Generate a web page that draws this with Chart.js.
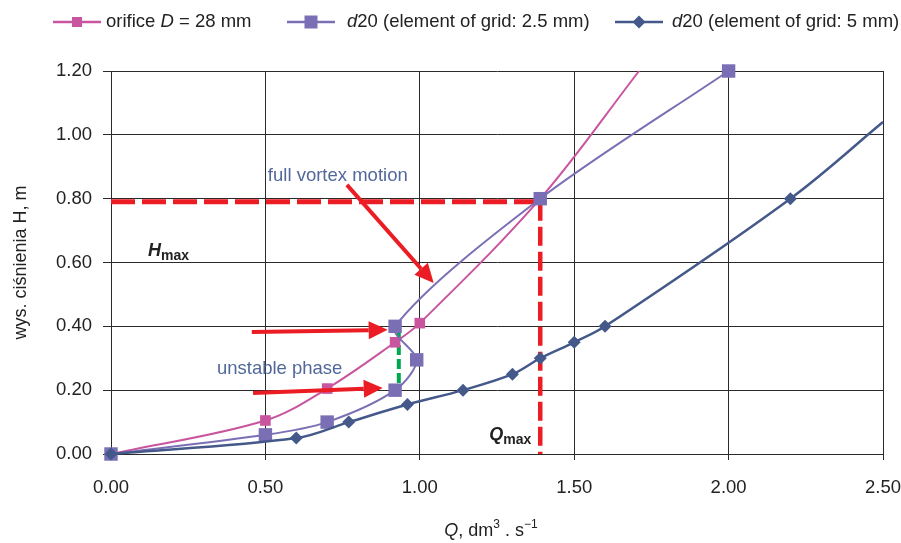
<!DOCTYPE html>
<html>
<head>
<meta charset="utf-8">
<script src="https://cdn.jsdelivr.net/npm/chart.js@4/dist/chart.umd.min.js"></script>
<style>
  html, body { margin: 0; padding: 0; background: #fff; }
  #wrap { width: 901px; height: 543px; }
</style>
</head>
<body>
<div id="wrap"><canvas id="chart" width="901" height="543"></canvas></div>
<script>
// orifice D = 28 mm
const qOrifice = [0, 0.50, 0.70, 0.92, 1.00, 1.39, 1.71];
const hOrifice = [0, 0.105, 0.205, 0.35, 0.41, 0.80, 1.20];
const markOrifice = [1, 1, 1, 1, 1, 0, 0];

// d20, grid element 2.5 mm
const qGrid25 = [0, 0.50, 0.70, 0.92, 0.99, 0.92, 1.39, 2.00];
const hGrid25 = [0, 0.06, 0.10, 0.20, 0.295, 0.40, 0.80, 1.20];

// d20, grid element 5 mm
const qGrid5 = [0, 0.60, 0.77, 0.96, 1.14, 1.30, 1.39, 1.50, 1.60, 2.20, 2.50];
const hGrid5 = [0, 0.05, 0.10, 0.155, 0.20, 0.25, 0.30, 0.35, 0.40, 0.80, 1.04];
const markGrid5 = [1, 1, 1, 1, 1, 1, 1, 1, 1, 1, 0];

const xTicks = [0, 0.5, 1.0, 1.5, 2.0, 2.5];
const yTicks = [0, 0.2, 0.4, 0.6, 0.8, 1.0, 1.2];

// annotation positions (data units)
const hMax = 0.79;
const qMax = 1.39;
const unstableQ = 0.932;
const unstableH = [0.215, 0.385];
const arrows = [
  { from: [0.456, 0.382], to: [0.896, 0.389] },
  { from: [0.460, 0.191], to: [0.880, 0.207] },
  { from: [0.764, 0.843], to: [1.045, 0.536] },
];

const pink = '#c8559e';
const purple = '#7a6fb5';
const navy = '#44598a';
const red = '#ec1c24';
const green = '#00a651';
const noteColor = '#52689a';
const font = '"Liberation Sans", Arial, sans-serif';

function toPoints(xs, ys) {
  return xs.map((x, i) => ({ x, y: ys[i] }));
}

function arrow(ctx, x1, y1, x2, y2) {
  const ang = Math.atan2(y2 - y1, x2 - x1);
  const headLen = 19;
  const headW = 9;
  const bx = x2 - headLen * Math.cos(ang);
  const by = y2 - headLen * Math.sin(ang);
  ctx.beginPath();
  ctx.moveTo(x1, y1);
  ctx.lineTo(bx, by);
  ctx.stroke();
  ctx.beginPath();
  ctx.moveTo(x2, y2);
  ctx.lineTo(bx + headW * Math.sin(ang), by - headW * Math.cos(ang));
  ctx.lineTo(bx - headW * Math.sin(ang), by + headW * Math.cos(ang));
  ctx.closePath();
  ctx.fill();
}

// draws runs of [text, font, dy] left to right
function drawRuns(ctx, x, y, runs) {
  runs.forEach(([text, f, dy]) => {
    ctx.font = f;
    ctx.fillText(text, x, y + (dy || 0));
    x += ctx.measureText(text).width;
  });
  return x;
}

const guides = {
  id: 'guides',
  beforeDatasetsDraw(chart) {
    const { ctx, scales: { x, y } } = chart;
    ctx.save();
    ctx.strokeStyle = red;
    ctx.lineWidth = 5;
    ctx.setLineDash([24, 7]);
    ctx.beginPath();
    ctx.moveTo(x.getPixelForValue(0), y.getPixelForValue(hMax));
    ctx.lineTo(x.getPixelForValue(qMax), y.getPixelForValue(hMax));
    ctx.stroke();
    ctx.lineWidth = 4.5;
    ctx.setLineDash([19, 6]);
    ctx.beginPath();
    ctx.moveTo(x.getPixelForValue(qMax), y.getPixelForValue(hMax));
    ctx.lineTo(x.getPixelForValue(qMax), y.getPixelForValue(0));
    ctx.stroke();
    ctx.strokeStyle = green;
    ctx.lineWidth = 4;
    ctx.setLineDash([10, 4]);
    ctx.beginPath();
    ctx.moveTo(x.getPixelForValue(unstableQ), y.getPixelForValue(unstableH[1]));
    ctx.lineTo(x.getPixelForValue(unstableQ), y.getPixelForValue(unstableH[0]));
    ctx.stroke();
    ctx.restore();
  },
  afterDatasetsDraw(chart) {
    const { ctx, scales: { x, y } } = chart;
    ctx.save();
    ctx.strokeStyle = red;
    ctx.fillStyle = red;
    ctx.lineWidth = 4;
    arrows.forEach((a) => {
      arrow(ctx,
        x.getPixelForValue(a.from[0]), y.getPixelForValue(a.from[1]),
        x.getPixelForValue(a.to[0]), y.getPixelForValue(a.to[1]));
    });

    ctx.fillStyle = noteColor;
    ctx.textBaseline = 'middle';
    ctx.font = '18.5px ' + font;
    ctx.fillText('full vortex motion', x.getPixelForValue(0.508), y.getPixelForValue(0.871));
    ctx.fillText('unstable phase', x.getPixelForValue(0.343), y.getPixelForValue(0.266));

    ctx.fillStyle = '#222';
    ctx.textBaseline = 'alphabetic';
    drawRuns(ctx, x.getPixelForValue(0.12), y.getPixelForValue(0.62), [
      ['H', 'italic bold 18px ' + font],
      ['max', 'bold 14px ' + font, 4],
    ]);
    drawRuns(ctx, x.getPixelForValue(1.225), y.getPixelForValue(0.045), [
      ['Q', 'italic bold 18px ' + font],
      ['max', 'bold 14px ' + font, 4],
    ]);
    ctx.restore();
  },
  afterDraw(chart) {
    const { ctx } = chart;
    ctx.save();
    // legend
    const items = [
      { color: pink, style: 'rect', size: 5, lx: 53, tx: 106,
        runs: [['orifice ', 'n'], ['D', 'i'], [' = 28 mm', 'n']] },
      { color: purple, style: 'rect', size: 6.5, lx: 287, tx: 347,
        runs: [['d', 'i'], ['20 (element of grid: 2.5 mm)', 'n']] },
      { color: navy, style: 'diamond', size: 6.5, lx: 615, tx: 672,
        runs: [['d', 'i'], ['20 (element of grid: 5 mm)', 'n']] },
    ];
    const ly = 22;
    items.forEach((it) => {
      ctx.strokeStyle = it.color;
      ctx.fillStyle = it.color;
      ctx.lineWidth = 2.5;
      ctx.beginPath();
      ctx.moveTo(it.lx, ly);
      ctx.lineTo(it.lx + 48, ly);
      ctx.stroke();
      const cx = it.lx + 24;
      ctx.beginPath();
      if (it.style === 'rect') {
        ctx.rect(cx - it.size, ly - it.size, it.size * 2, it.size * 2);
      } else {
        ctx.moveTo(cx, ly - it.size);
        ctx.lineTo(cx + it.size, ly);
        ctx.lineTo(cx, ly + it.size);
        ctx.lineTo(cx - it.size, ly);
        ctx.closePath();
      }
      ctx.fill();
      ctx.fillStyle = '#222';
      ctx.textBaseline = 'middle';
      drawRuns(ctx, it.tx, ly, it.runs.map(([t, s]) =>
        [t, (s === 'i' ? 'italic ' : '') + '18.5px ' + font]));
    });

    // x axis title
    ctx.fillStyle = '#222';
    ctx.textBaseline = 'alphabetic';
    const runs = [
      ['Q', 'italic 18px ' + font],
      [', dm', '18px ' + font],
      ['3', '12px ' + font, -8],
      [' . s', '18px ' + font],
      ['\u22121', '12px ' + font, -8],
    ];
    let w = 0;
    runs.forEach(([t, f]) => { ctx.font = f; w += ctx.measureText(t).width; });
    drawRuns(ctx, 491 - w / 2, 536, runs);
    ctx.restore();
  },
};

const ctx = document.getElementById('chart').getContext('2d');
new Chart(ctx, {
  type: 'scatter',
  data: {
    datasets: [
      {
        label: 'orifice D = 28 mm',
        data: toPoints(qOrifice, hOrifice),
        showLine: true,
        borderColor: pink,
        backgroundColor: pink,
        borderWidth: 2,
        pointStyle: 'rect',
        pointRadius: markOrifice.map((m) => m * 7.5),
        pointBorderWidth: 0,
        tension: 0.35,
        order: 3,
        clip: { left: 12, top: 2, right: 2, bottom: 12 },
      },
      {
        label: 'd20 (element of grid: 2.5 mm)',
        data: toPoints(qGrid25, hGrid25),
        showLine: true,
        borderColor: purple,
        backgroundColor: purple,
        borderWidth: 2,
        pointStyle: 'rect',
        pointRadius: 9.5,
        pointBorderWidth: 0,
        tension: 0.3,
        order: 2,
        clip: { left: 12, top: 12, right: 2, bottom: 12 },
      },
      {
        label: 'd20 (element of grid: 5 mm)',
        data: toPoints(qGrid5, hGrid5),
        showLine: true,
        borderColor: navy,
        backgroundColor: navy,
        borderWidth: 2.5,
        pointStyle: 'rectRot',
        pointRadius: markGrid5.map((m) => m * 6.5),
        pointBorderWidth: 0,
        tension: 0.35,
        order: 1,
        clip: { left: 12, top: 2, right: 2, bottom: 12 },
      },
    ],
  },
  options: {
    responsive: false,
    animation: false,
    events: [],
    layout: { padding: { top: 71, right: 18, left: 0, bottom: 0 } },
    plugins: {
      legend: { display: false },
      tooltip: { enabled: false },
    },
    scales: {
      x: {
        type: 'linear',
        min: 0,
        max: 2.5,
        afterBuildTicks: (s) => { s.ticks = xTicks.map((v) => ({ value: v })); },
        afterFit: (s) => { s.height = 89; s.paddingRight = 0; s.paddingLeft = 0; },
        ticks: {
          font: { family: font, size: 18.5 },
          color: '#222',
          padding: 17,
          maxRotation: 0,
          callback: (v) => v.toFixed(2),
        },
        grid: { color: '#2a2a2a', lineWidth: 1, tickLength: 6 },
        border: { color: '#2a2a2a', width: 1 },
      },
      y: {
        type: 'linear',
        min: 0,
        max: 1.2,
        afterBuildTicks: (s) => { s.ticks = yTicks.map((v) => ({ value: v })); },
        afterFit: (s) => { s.width = 111; s.paddingTop = 0; s.paddingBottom = 0; },
        ticks: {
          font: { family: font, size: 18.5 },
          color: '#222',
          padding: 11,
          callback: (v) => v.toFixed(2),
        },
        grid: { color: '#2a2a2a', lineWidth: 1, tickLength: 8 },
        border: { color: '#2a2a2a', width: 1 },
        title: {
          display: true,
          text: 'wys. ciśnienia H, m',
          font: { family: font, size: 18 },
          color: '#222',
          padding: { top: 10, bottom: 0 },
        },
      },
    },
  },
  plugins: [guides],
});
</script>
</body>
</html>
